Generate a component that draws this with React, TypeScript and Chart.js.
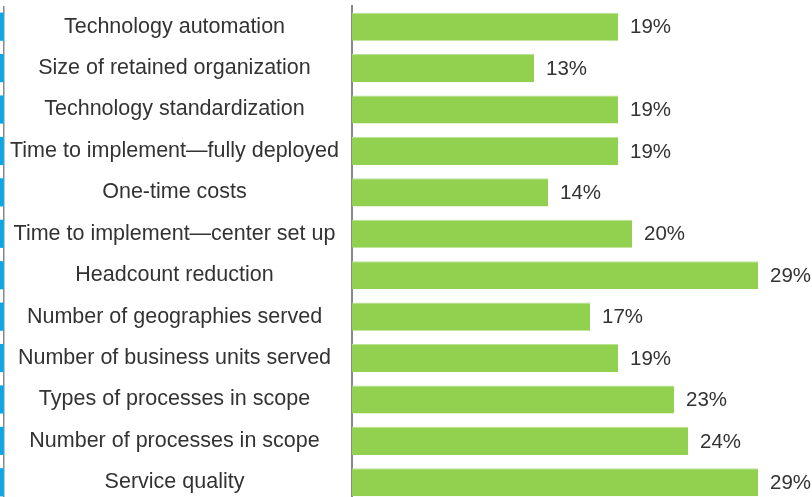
import React, { useEffect, useRef } from "react";
import { Chart, registerables } from "chart.js";

Chart.register(...registerables);

const categories = [
  "Technology automation",
  "Size of retained organization",
  "Technology standardization",
  "Time to implement\u2014fully deployed",
  "One-time costs",
  "Time to implement\u2014center set up",
  "Headcount reduction",
  "Number of geographies served",
  "Number of business units served",
  "Types of processes in scope",
  "Number of processes in scope",
  "Service quality",
];

const values = [19, 13, 19, 19, 14, 20, 29, 17, 19, 23, 24, 29];

const FONT = '"Liberation Sans", Arial, sans-serif';

const decorPlugin = {
  id: "decor",
  afterDatasetsDraw(chart: any) {
    const ctx = chart.ctx;
    const meta = chart.getDatasetMeta(0);
    ctx.save();
    // left strip from neighbouring chart
    meta.data.forEach((bar: any) => {
      const h = bar.height;
      ctx.fillStyle = "#0ea5e0";
      ctx.fillRect(0, bar.y - h / 2, 3, h);
    });
    ctx.fillStyle = "#888888";
    ctx.fillRect(3, chart.chartArea.top, 1.5, chart.height);
    // value labels
    ctx.font = "20.5px " + FONT;
    ctx.fillStyle = "#333333";
    ctx.textAlign = "left";
    ctx.textBaseline = "middle";
    meta.data.forEach((bar: any, i: number) => {
      ctx.fillText(values[i] + "%", bar.x + 12, bar.y + 1);
    });
    ctx.restore();
  },
};

export default function App() {
  const ref = useRef<HTMLCanvasElement>(null);
  useEffect(() => {
    if (!ref.current) return;
    const chart = new Chart(ref.current, {
      type: "bar",
      data: {
        labels: categories,
        datasets: [
          {
            data: values,
            backgroundColor: "#92d050",
            borderColor: "#b8e294",
            borderWidth: { top: 1, bottom: 0, left: 0, right: 0 },
            borderSkipped: false,
            barPercentage: 0.68,
            categoryPercentage: 1,
          },
        ],
      },
      options: {
        indexAxis: "y",
        responsive: false,
        animation: false,
        layout: { padding: { top: 6, bottom: 0, right: 40, left: 0 } },
        plugins: { legend: { display: false }, tooltip: { enabled: false } },
        scales: {
          x: { display: false, min: 0, max: 30 },
          y: {
            grid: { display: false, drawTicks: false },
            border: { display: true, color: "#888888", width: 2 },
            ticks: {
              font: { size: 21.5, family: FONT },
              color: "#333333",
              crossAlign: "center",
              padding: 13,
            },
            afterFit(scale: any) {
              scale.width = 352;
              scale.paddingTop = 0;
              scale.paddingBottom = 0;
            },
          },
        },
      },
      plugins: [decorPlugin],
    } as any);
    return () => chart.destroy();
  }, []);
  return (
    <div
      style={{
        position: "absolute",
        left: 0,
        top: 0,
        width: 812,
        height: 497,
        overflow: "hidden",
      }}
    >
      <canvas ref={ref} width={812} height={503} style={{ display: "block" }} />
    </div>
  );
}
